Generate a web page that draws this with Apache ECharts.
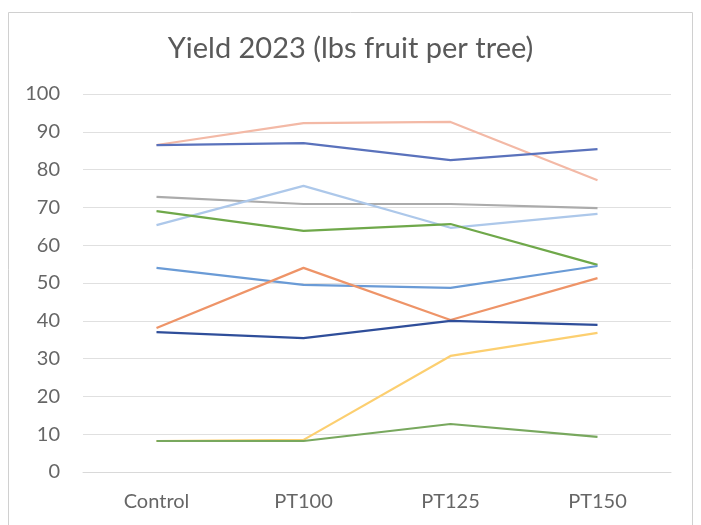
<!DOCTYPE html>
<html>
<head>
<meta charset="utf-8">
<script src="https://cdn.jsdelivr.net/npm/echarts@6/dist/echarts.min.js"></script>
<style>
  html, body { margin: 0; padding: 0; background: #ffffff; }
  #chart { width: 701px; height: 525px; }
</style>
</head>
<body>
<div id="chart"></div>
<script>
// Treatments along the x axis
const categories = ['Control', 'PT100', 'PT125', 'PT150'];

// Yield per tree (lbs) for each tree across treatments
const tree1 = [86.5, 92.3, 92.6, 77.2];
const tree2 = [86.5, 87.0, 82.5, 85.4];
const tree3 = [72.8, 70.9, 70.9, 69.8];
const tree4 = [65.3, 75.7, 64.6, 68.3];
const tree5 = [69.0, 63.8, 65.6, 54.8];
const tree6 = [54.0, 49.5, 48.7, 54.5];
const tree7 = [38.1, 54.0, 40.2, 51.3];
const tree8 = [37.0, 35.4, 40.0, 38.9];
const tree9 = [8.2, 8.5, 30.7, 36.8];
const tree10 = [8.2, 8.2, 12.7, 9.3];

const seriesData = [tree1, tree2, tree3, tree4, tree5, tree6, tree7, tree8, tree9, tree10];
const seriesColors = ['#F3B9A6', '#5A72BC', '#ABABAB', '#ADC8EA', '#6FA84A',
                      '#6A9BD6', '#EE9468', '#2F4E9A', '#FCCF70', '#78A85E'];

const yTicks = [0, 10, 20, 30, 40, 50, 60, 70, 80, 90, 100];

const fontFamily = 'Lato, "Open Sans", sans-serif';

const chart = echarts.init(document.getElementById('chart'), null, { renderer: 'canvas' });

chart.setOption({
  backgroundColor: '#ffffff',
  animation: false,
  title: {
    text: 'Yield 2023 (lbs fruit per tree)',
    left: 'center',
    top: 29,
    textStyle: { fontFamily: fontFamily, fontSize: 29, fontWeight: 'normal', color: '#595959' }
  },
  graphic: [{
    type: 'rect',
    shape: { x: 8.5, y: 12.5, width: 684, height: 530 },
    style: { fill: 'none', stroke: '#d0d0d0', lineWidth: 1 },
    silent: true
  }],
  grid: { left: 83, right: 30, top: 94, bottom: 53, containLabel: false },
  xAxis: {
    type: 'category',
    data: categories,
    boundaryGap: true,
    axisLine: { show: true, lineStyle: { color: '#d9d9d9', width: 1 } },
    axisTick: { show: false },
    axisLabel: { fontFamily: fontFamily, fontSize: 20, color: '#666666', margin: 20 },
    splitLine: { show: false }
  },
  yAxis: {
    type: 'value',
    min: yTicks[0],
    max: yTicks[yTicks.length - 1],
    interval: 10,
    axisLine: { show: false },
    axisTick: { show: false },
    axisLabel: { fontFamily: fontFamily, fontSize: 20, color: '#666666', margin: 23 },
    splitLine: { show: true, lineStyle: { color: '#e0e0e0', width: 1 } }
  },
  series: seriesData.map((d, i) => ({
    type: 'line',
    data: d,
    symbol: 'none',
    smooth: false,
    lineStyle: { color: seriesColors[i], width: 2.2 },
    itemStyle: { color: seriesColors[i] }
  }))
});
</script>
</body>
</html>
